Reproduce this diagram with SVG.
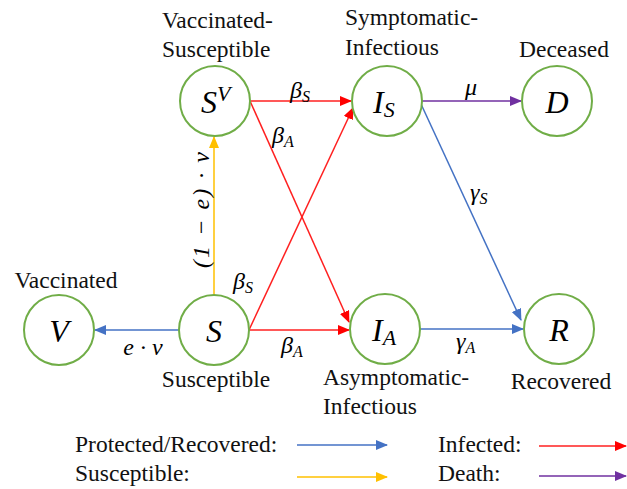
<svg xmlns="http://www.w3.org/2000/svg" width="627" height="489" viewBox="0 0 627 489">
<style>
text{font-family:'Liberation Serif','Times New Roman','DejaVu Serif',serif}
.node{fill:#fff;stroke:#70AD47;stroke-width:2}
.lbl{font-size:23.5px;fill:#111}
.m{font-style:italic;fill:#000}
.big{font-size:32px}
.par{font-size:24px}
.c{stroke-width:1.5;fill:none}
.b{stroke:#4472C4}.r{stroke:#FF2020}.y{stroke:#FFC000}.p{stroke:#7030A0}
</style>
<defs>
<marker id="ab" markerWidth="12" markerHeight="10" refX="11" refY="5" orient="auto" markerUnits="userSpaceOnUse"><path d="M0,0 L12,5 L0,10 Z" fill="#4472C4"/></marker>
<marker id="ar" markerWidth="12" markerHeight="10" refX="11" refY="5" orient="auto" markerUnits="userSpaceOnUse"><path d="M0,0 L12,5 L0,10 Z" fill="#FF0000"/></marker>
<marker id="ay" markerWidth="12" markerHeight="10" refX="11" refY="5" orient="auto" markerUnits="userSpaceOnUse"><path d="M0,0 L12,5 L0,10 Z" fill="#FFC000"/></marker>
<marker id="ap" markerWidth="12" markerHeight="10" refX="11" refY="5" orient="auto" markerUnits="userSpaceOnUse"><path d="M0,0 L12,5 L0,10 Z" fill="#7030A0"/></marker>
</defs>
<rect width="627" height="489" fill="#fff"/>

<g id="connectors">
<line class="c y" x1="214" y1="295" x2="214" y2="137" marker-end="url(#ay)"/>
<line class="c b" x1="179" y1="330" x2="95" y2="330" marker-end="url(#ab)"/>
<line class="c r" x1="250" y1="101" x2="351" y2="101" marker-end="url(#ar)"/>
<line class="c r" x1="250" y1="101" x2="349" y2="322" marker-end="url(#ar)"/>
<line class="c r" x1="249" y1="330" x2="353" y2="108" marker-end="url(#ar)"/>
<line class="c r" x1="249" y1="330" x2="349" y2="330" marker-end="url(#ar)"/>
<line class="c p" x1="422" y1="101" x2="521" y2="101" marker-end="url(#ap)"/>
<line class="c b" x1="421" y1="104" x2="521" y2="320" marker-end="url(#ab)"/>
<line class="c b" x1="420" y1="329" x2="523" y2="329" marker-end="url(#ab)"/>

<text class="m par" transform="translate(209,210) rotate(-90)" text-anchor="middle" textLength="116" lengthAdjust="spacing">(1 − e) · v</text>
<text class="m par" x="143" y="355" text-anchor="middle">e · v</text>
<text class="m par" x="290" y="98">β<tspan font-size="16" dy="4">S</tspan></text>
<text class="m par" x="272" y="143">β<tspan font-size="16" dy="4">A</tspan></text>
<text class="m par" x="233" y="289">β<tspan font-size="16" dy="4">S</tspan></text>
<text class="m par" x="281" y="353">β<tspan font-size="16" dy="4">A</tspan></text>
<text class="m par" x="465" y="95">μ</text>
<text class="m par" x="470" y="200">γ<tspan font-size="16" dy="4">S</tspan></text>
<text class="m par" x="456" y="349">γ<tspan font-size="16" dy="4">A</tspan></text>
</g>

<g id="node-SV">
<circle class="node" cx="215" cy="101" r="35"/>
<text class="m big" x="201" y="113">S<tspan font-size="22" dy="-12">V</tspan></text>
<text class="lbl" x="162" y="28">Vaccinated-</text>
<text class="lbl" x="162" y="57">Susceptible</text>
</g>
<g id="node-IS">
<circle class="node" cx="387" cy="101" r="35"/>
<text class="m big" x="373" y="113">I<tspan font-size="22" dy="4">S</tspan></text>
<text class="lbl" x="345" y="25">Symptomatic-</text>
<text class="lbl" x="345" y="55">Infectious</text>
</g>
<g id="node-D">
<circle class="node" cx="557" cy="101" r="35"/>
<text class="m big" x="557" y="113" text-anchor="middle">D</text>
<text class="lbl" x="564" y="57" text-anchor="middle">Deceased</text>
</g>
<g id="node-V">
<circle class="node" cx="59" cy="330" r="35"/>
<text class="m big" x="59" y="342" text-anchor="middle">V</text>
<text class="lbl" x="66" y="288" text-anchor="middle">Vaccinated</text>
</g>
<g id="node-S">
<circle class="node" cx="214" cy="330" r="35"/>
<text class="m big" x="214" y="342" text-anchor="middle">S</text>
<text class="lbl" x="216" y="387" text-anchor="middle">Susceptible</text>
</g>
<g id="node-IA">
<circle class="node" cx="385" cy="329" r="35"/>
<text class="m big" x="372" y="341">I<tspan font-size="22" dy="4">A</tspan></text>
<text class="lbl" x="323" y="385">Asymptomatic-</text>
<text class="lbl" x="323" y="414">Infectious</text>
</g>
<g id="node-R">
<circle class="node" cx="559" cy="329" r="35"/>
<text class="m big" x="559" y="341" text-anchor="middle">R</text>
<text class="lbl" x="561" y="389" text-anchor="middle">Recovered</text>
</g>

<g id="legend">
<text class="lbl" x="75" y="452">Protected/Recovered:</text>
<line class="c b" x1="297" y1="445" x2="387" y2="445" marker-end="url(#ab)"/>
<text class="lbl" x="75" y="481">Susceptible:</text>
<line class="c y" x1="297" y1="477" x2="387" y2="477" marker-end="url(#ay)"/>
<text class="lbl" x="438" y="452">Infected:</text>
<line class="c r" x1="539" y1="446" x2="626" y2="446" marker-end="url(#ar)"/>
<text class="lbl" x="438" y="481">Death:</text>
<line class="c p" x1="539" y1="476" x2="626" y2="476" marker-end="url(#ap)"/>
</g>
</svg>
